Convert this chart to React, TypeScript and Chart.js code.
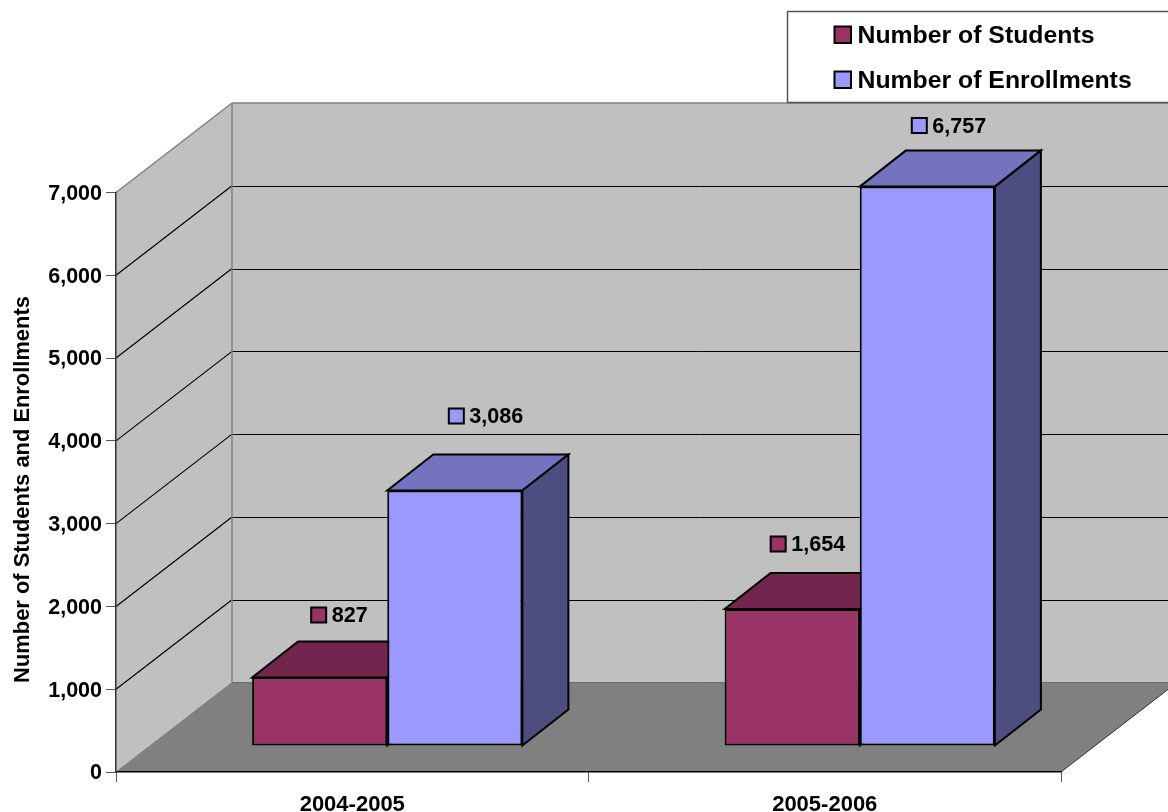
import React, { useEffect, useRef } from "react";
import { Chart, registerables } from "chart.js";

Chart.register(...registerables);

const categories = ["2004-2005", "2005-2006"];
const studentValues = [827, 1654];
const enrollmentValues = [3086, 6757];
const seriesNames = ["Number of Students", "Number of Enrollments"];
const axisTitle = "Number of Students and Enrollments";
const labelNudgeX = [[-8.5, -21.5], [-6, -15.5]];
const labelNudgeY = [[-62.5, -65], [-74.5, -61]];

const FONT = '"Liberation Sans", Arial, sans-serif';
const FRONT = ["#993366", "#9999FF"];
const TOP = ["#73264D", "#7373BF"];
const SIDE = ["#4D1A33", "#4D4D80"];
const WALL = "#C0C0C0";
const FLOOR = "#808080";
const EDGE = "#808080";
const WALL_DX = 116;
const WALL_DY = 89.5;
const BAR_SHIFT_X = 35;
const BAR_SHIFT_Y = 26;
const BAR_DX = 46;
const BAR_DY = 36;

function poly(ctx: CanvasRenderingContext2D, pts: number[][], fill?: string, stroke?: string, lw = 1) {
  ctx.beginPath();
  pts.forEach((p, i) => (i ? ctx.lineTo(p[0], p[1]) : ctx.moveTo(p[0], p[1])));
  ctx.closePath();
  if (fill) {
    ctx.fillStyle = fill;
    ctx.fill();
  }
  if (stroke) {
    ctx.strokeStyle = stroke;
    ctx.lineWidth = lw;
    ctx.stroke();
  }
}

function line(ctx: CanvasRenderingContext2D, x1: number, y1: number, x2: number, y2: number, color: string, lw: number) {
  ctx.beginPath();
  ctx.moveTo(x1, y1);
  ctx.lineTo(x2, y2);
  ctx.strokeStyle = color;
  ctx.lineWidth = lw;
  ctx.stroke();
}

const wallsPlugin = {
  id: "walls",
  beforeDraw(chart: any) {
    const { ctx, chartArea: a, scales } = chart;
    const y = scales.y;
    const bx = a.left + WALL_DX;
    const bTop = a.top - WALL_DY;
    const bBot = a.bottom - WALL_DY;
    const bRight = a.right + WALL_DX;
    ctx.save();
    poly(ctx, [[a.left, a.top], [bx, bTop], [bx, bBot], [a.left, a.bottom]], WALL);
    poly(ctx, [[bx, bTop], [bRight, bTop], [bRight, bBot], [bx, bBot]], WALL);
    poly(ctx, [[a.left, a.bottom], [bx, bBot], [bRight, bBot], [a.right, a.bottom]], FLOOR);
    y.ticks.forEach((t: any) => {
      const py = y.getPixelForValue(t.value);
      if (t.value > y.min && t.value < y.max) {
        line(ctx, a.left, py, bx, py - WALL_DY, "#000", 1.2);
        line(ctx, bx, Math.round(py - WALL_DY) + 0.5, bRight, Math.round(py - WALL_DY) + 0.5, "#000", 1);
      }
    });
    line(ctx, a.left, a.top, bx, bTop, EDGE, 1.5);
    line(ctx, bx, bTop, bRight, bTop, EDGE, 1.5);
    line(ctx, bx, bTop, bx, bBot, EDGE, 1.5);
    line(ctx, a.left, a.bottom, bx, bBot, EDGE, 1);
    line(ctx, bx, bBot, bRight, bBot, "#6a6a6a", 1);
    line(ctx, a.right, a.bottom, bRight, bBot, "#333", 1);
    ctx.restore();
  },
  beforeDatasetsDraw(chart: any) {
    const { ctx } = chart;
    ctx.save();
    ctx.translate(BAR_SHIFT_X, -BAR_SHIFT_Y);
    [0, 1].forEach((ds) => {
      chart.getDatasetMeta(ds).data.forEach((el: any) => {
        const { x, y, base, width } = el.getProps(["x", "y", "base", "width"], true);
        const l = x - width / 2;
        const r = x + width / 2;
        poly(ctx, [[l, y], [l + BAR_DX, y - BAR_DY], [r + BAR_DX, y - BAR_DY], [r, y]], TOP[ds], "#000", 2);
        poly(ctx, [[r, y], [r + BAR_DX, y - BAR_DY], [r + BAR_DX, base - BAR_DY], [r, base]], SIDE[ds], "#000", 2);
      });
    });
  },
  afterDatasetsDraw(chart: any) {
    const { ctx } = chart;
    ctx.restore();
    ctx.save();
    ctx.font = `bold 21.6px ${FONT}`;
    ctx.textAlign = "left";
    ctx.textBaseline = "middle";
    [0, 1].forEach((ds) => {
      chart.getDatasetMeta(ds).data.forEach((el: any, i: number) => {
        const { x, y } = el.getProps(["x", "y"], true);
        const mx = x + BAR_SHIFT_X + labelNudgeX[ds][i];
        const my = y - BAR_SHIFT_Y + labelNudgeY[ds][i];
        poly(ctx, [[mx, my - 7.5], [mx + 15, my - 7.5], [mx + 15, my + 7.5], [mx, my + 7.5]], FRONT[ds], "#000", 2);
        ctx.fillStyle = "#000";
        ctx.fillText(Number(chart.data.datasets[ds].data[i]).toLocaleString("en-US"), mx + 20.5, my + 1);
      });
    });
    ctx.restore();
  },
  afterDraw(chart: any) {
    const { ctx } = chart;
    ctx.save();
    ctx.font = `bold 21.9px ${FONT}`;
    ctx.textAlign = "center";
    ctx.textBaseline = "alphabetic";
    ctx.fillStyle = "#000";
    ctx.translate(29, 489.5);
    ctx.rotate(-Math.PI / 2);
    ctx.fillText(axisTitle, 0, 0);
    ctx.restore();

    ctx.save();
    poly(ctx, [[787.5, 11.5], [1180, 11.5], [1180, 102.5], [787.5, 102.5]], "#FFFFFF", "#555", 1.5);
    ctx.font = `bold 24.8px ${FONT}`;
    ctx.textAlign = "left";
    ctx.textBaseline = "middle";
    chart.data.datasets.forEach((d: any, i: number) => {
      const cy = 35 + i * 45;
      poly(ctx, [[834.5, cy - 8.5], [851, cy - 8.5], [851, cy + 8], [834.5, cy + 8]], FRONT[i], "#000", 2);
      ctx.fillStyle = "#000";
      ctx.fillText(d.label, 857.5, cy + 1);
    });
    ctx.restore();
  },
};

export default function App() {
  const ref = useRef<HTMLCanvasElement>(null);
  useEffect(() => {
    const chart = new Chart(ref.current as HTMLCanvasElement, {
      type: "bar",
      data: {
        labels: categories,
        datasets: [
          { label: seriesNames[0], data: studentValues, backgroundColor: FRONT[0], borderColor: "#000", borderWidth: 2, borderSkipped: false, clip: false },
          { label: seriesNames[1], data: enrollmentValues, backgroundColor: FRONT[1], borderColor: "#000", borderWidth: 2, borderSkipped: false, clip: false },
        ],
      } as any,
      options: {
        animation: false,
        responsive: false,
        devicePixelRatio: 1,
        layout: { padding: { top: 192.5, right: 107, left: 0, bottom: 0 } },
        datasets: { bar: { categoryPercentage: 0.572, barPercentage: 1 } },
        plugins: { legend: { display: false }, tooltip: { enabled: false } },
        scales: {
          x: {
            afterFit: (s: any) => { s.height = 40; },
            grid: { drawOnChartArea: false, tickLength: 10, color: "#555", tickColor: "#555" },
            border: { color: "#000", width: 1.5 },
            ticks: { color: "#000", padding: 10, maxRotation: 0, font: { family: FONT, size: 22, weight: "bold" } },
          },
          y: {
            min: 0,
            max: 7000,
            afterFit: (s: any) => { s.width = 116; },
            grid: { drawOnChartArea: false, tickLength: 10, color: "#555", tickColor: "#555" },
            border: { color: "#333", width: 1.5 },
            ticks: {
              stepSize: 1000,
              color: "#000",
              padding: 4,
              labelOffset: 1.5,
              callback: (v: any) => Number(v).toLocaleString("en-US"),
              font: { family: FONT, size: 21.5, weight: "bold" },
            },
          },
        },
      } as any,
      plugins: [wallsPlugin as any],
    });
    return () => chart.destroy();
  }, []);
  return (
    <div style={{ position: "absolute", left: 0, top: 0, width: 1168, height: 812, background: "#fff" }}>
      <canvas ref={ref} width={1168} height={812} style={{ display: "block" }} />
    </div>
  );
}
